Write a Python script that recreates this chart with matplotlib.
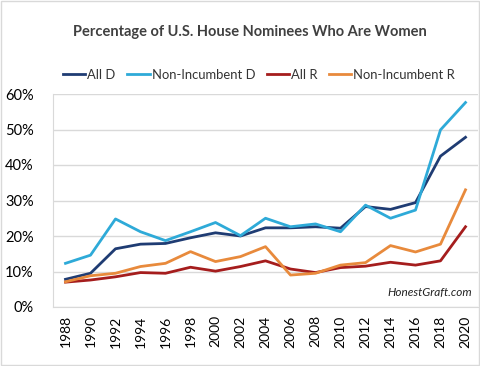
import matplotlib.pyplot as plt
from matplotlib.ticker import PercentFormatter

plt.rcParams['font.family'] = ['Lato', 'DejaVu Sans']

years = [1988, 1990, 1992, 1994, 1996, 1998, 2000, 2002, 2004, 2006, 2008,
         2010, 2012, 2014, 2016, 2018, 2020]
all_d = [7.8, 9.5, 16.4, 17.7, 17.9, 19.5, 20.9, 20.0, 22.3, 22.3, 22.6,
         22.2, 28.3, 27.5, 29.4, 42.5, 47.8]
non_inc_d = [12.3, 14.6, 24.8, 21.2, 18.7, 21.2, 23.8, 20.1, 25.0, 22.6, 23.4,
             21.2, 28.7, 25.0, 27.3, 49.9, 57.6]
all_r = [7.0, 7.6, 8.5, 9.7, 9.5, 11.2, 10.1, 11.4, 13.0, 10.7, 9.7,
         11.1, 11.5, 12.6, 11.8, 13.0, 22.6]
non_inc_r = [7.1, 8.8, 9.5, 11.4, 12.3, 15.6, 12.8, 14.2, 17.0, 9.0, 9.5,
             11.8, 12.5, 17.3, 15.5, 17.7, 33.0]

fig = plt.figure(figsize=(4.8, 3.66), dpi=100)
ax = fig.add_axes([53 / 480, 1 - 307 / 366, 425 / 480, 213 / 366])

ax.plot(years, all_d, color="#1f3c73", lw=2, label="All D")
ax.plot(years, non_inc_d, color="#2eaad8", lw=2, label="Non-Incumbent D")
ax.plot(years, all_r, color="#a51d1d", lw=2, label="All R")
ax.plot(years, non_inc_r, color="#e88a3c", lw=2, label="Non-Incumbent R")

ax.set_xlim(1987, 2021)
ax.set_ylim(0, 60)
ax.set_xticks(years)
ax.set_xticklabels([str(y) for y in years], rotation=90, fontsize=10)
ax.set_yticks(range(0, 61, 10))
ax.yaxis.set_major_formatter(PercentFormatter(decimals=0))
ax.tick_params(axis='y', labelsize=10.5, length=0, pad=14)
ax.tick_params(axis='x', length=0, pad=6)
ax.grid(axis='y', color="#d9d9d9", lw=1)
ax.set_axisbelow(True)
for s in ['top', 'right']:
    ax.spines[s].set_visible(False)
for s in ['left', 'bottom']:
    ax.spines[s].set_color("#d9d9d9")

ax.text(0.985, 0.07, "HonestGraft.com", transform=ax.transAxes, ha='right',
        va='center', fontsize=8.5, style='italic', color="#222222")

fig.text(0.52, 1 - 32 / 366, "Percentage of U.S. House Nominees Who Are Women",
         ha='center', va='center', fontsize=10.5, fontweight='bold', color="#404040")
leg = fig.legend(loc='center', bbox_to_anchor=(0.54, 1 - 75 / 366), ncol=4, frameon=False,
                 fontsize=9.4, handlelength=1.7, handletextpad=0.15, columnspacing=0.9)
for t in leg.get_texts():
    t.set_color("#333333")

fig.patches.append(plt.Rectangle((0.002, 0.002), 0.996, 0.996, transform=fig.transFigure,
                                 fill=False, edgecolor="#d9d9d9", lw=1))
fig.savefig("out.png", dpi=100)
